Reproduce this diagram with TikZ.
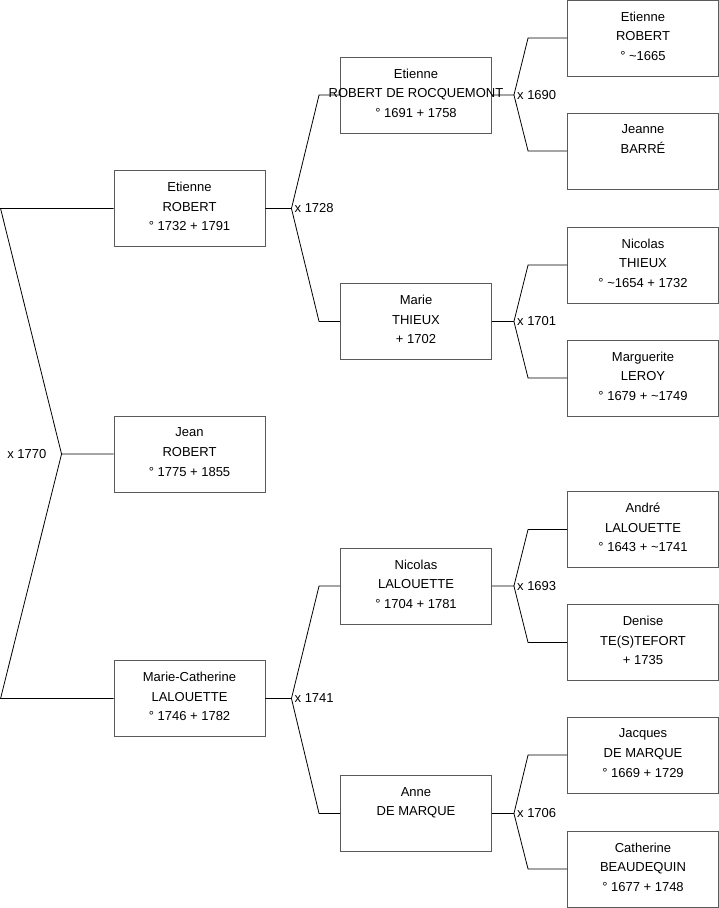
\documentclass[tikz,border=0pt]{standalone}
\usepackage{fontspec}
\setmainfont{Liberation Sans}
\definecolor{boxgray}{HTML}{5A5A5A}
\tikzset{person/.style={draw=boxgray,line width=.9pt,fill=white,minimum width=151pt,minimum height=76pt,inner sep=0pt,align=center,font=\fontsize{13}{19.6}\selectfont,execute at end node={\rule[-4pt]{0pt}{4pt}}},
link/.style={line width=.8pt},union/.style={inner sep=0pt,font=\fontsize{13}{15}\selectfont}}
\begin{document}
\begin{tikzpicture}[x=1pt,y=-1pt]
\useasboundingbox(0,0) rectangle (719,908);
% child and parents
\node[person](jean)at(189.5,454){Jean\\ROBERT\\° 1775 + 1855};
\node[person](etienneR)at(189.5,208.5){Etienne\\ROBERT\\° 1732 + 1791};
\node[person](marieCL)at(189.5,698.5){Marie-Catherine\\LALOUETTE\\° 1746 + 1782};
% grandparents
\node[person](etienneRR)at(416,95){Etienne\\\makebox[0pt]{ROBERT DE ROCQUEMONT}\\° 1691 + 1758};
\node[person](marieT)at(416,321.5){Marie\\THIEUX\\+ 1702};
\node[person](nicolasL)at(416,586){Nicolas\\LALOUETTE\\° 1704 + 1781};
\node[person](anneDM)at(416,813.5){Anne\\DE MARQUE\\\mbox{}};
% great-grandparents
\node[person](etienneRo)at(643,38){Etienne\\ROBERT\\° \textasciitilde1665};
\node[person](jeanneB)at(643,151){Jeanne\\BARRÉ\\\mbox{}};
\node[person](nicolasT)at(643,265){Nicolas\\THIEUX\\° \textasciitilde1654 + 1732};
\node[person](margueriteL)at(643,378){Marguerite\\LEROY\\° 1679 + \textasciitilde1749};
\node[person](andreL)at(643,529.5){André\\LALOUETTE\\° 1643 + \textasciitilde1741};
\node[person](deniseT)at(643,642.5){Denise\\TE(S)TEFORT\\+ 1735};
\node[person](jacquesDM)at(643,755){Jacques\\DE MARQUE\\° 1669 + 1729};
\node[person](catherineB)at(643,869){Catherine\\BEAUDEQUIN\\° 1677 + 1748};
% marriages
\draw[link](jean.west)--++(-52,0)coordinate(u0)--([xshift=-113]etienneR.west)--(etienneR.west);
\draw[link](u0)--([xshift=-113]marieCL.west)--(marieCL.west);
\node[union,left=15pt]at(u0){x 1770};
\foreach \kid/\dad/\mom/\yr/\stub/\tail in {etienneR/etienneRR/marieT/1728/26/21,marieCL/nicolasL/anneDM/1741/26/21,etienneRR/etienneRo/jeanneB/1690/22/39,marieT/nicolasT/margueriteL/1701/22/39,nicolasL/andreL/deniseT/1693/22/39,anneDM/jacquesDM/catherineB/1706/22/39}{
\draw[link](\kid.east)--++(\stub,0)coordinate(u)--([xshift=-\tail]\dad.west)--(\dad.west);
\draw[link](u)--([xshift=-\tail]\mom.west)--(\mom.west);
\node[union,right=3pt]at(u){x \yr};}
\end{tikzpicture}
\end{document}
